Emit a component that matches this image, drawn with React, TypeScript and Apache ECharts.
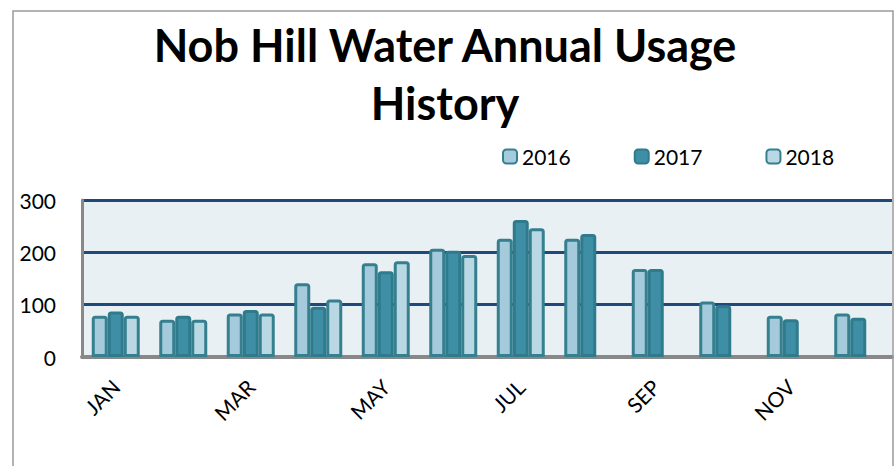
import React, { useEffect, useRef } from "react";
import * as echarts from "echarts";

const months = ["JAN", "FEB", "MAR", "APR", "MAY", "JUN", "JUL", "AUG", "SEP", "OCT", "NOV", "DEC"];
const usage2016 = [79, 71, 83, 141, 179, 207, 226, 226, 168, 106, 79, 83];
const usage2017 = [87, 79, 90, 96, 164, 203, 262, 235, 168, 99, 72, 75];
const usage2018: (number | null)[] = [79, 71, 83, 110, 183, 195, 246, null, null, null, null, null];
const yTicks = { min: 0, max: 300, interval: 100 };

const FONT = "Lato, 'Liberation Sans', sans-serif";

export default function App() {
  const ref = useRef<HTMLDivElement>(null);
  useEffect(() => {
    if (!ref.current) return;
    const chart = echarts.init(ref.current, null, { renderer: "svg" });
    const edge = "#357f8f";
    const mk = (name: string, data: (number | null)[], fill: string, border: string) => ({
      name,
      type: "bar",
      data,
      barWidth: 16,
      barGap: "0%",
      itemStyle: { color: fill, borderColor: border, borderWidth: 3, borderRadius: [2, 2, 0, 0] },
    });
    chart.setOption({
      animation: false,
      backgroundColor: "#ffffff",
      textStyle: { fontFamily: FONT },
      title: {
        text: "Nob Hill Water Annual Usage\nHistory",
        left: 440,
        textAlign: "center",
        top: 11,
        textStyle: { fontFamily: FONT, fontWeight: "bold", fontSize: 45, lineHeight: 58, color: "#000" },
      },
      legend: {
        left: 497,
        top: 141,
        itemWidth: 14,
        itemHeight: 14,
        itemGap: 63,
        icon: "roundRect",
        textStyle: { fontFamily: FONT, fontSize: 21, color: "#000" },
      },
      grid: {
        left: 82,
        right: 3,
        top: 200,
        bottom: 109,
        show: true,
        backgroundColor: "#e8f0f4",
        borderWidth: 0,
      },
      xAxis: {
        type: "category",
        data: months,
        axisLine: { show: true, lineStyle: { color: "#888888", width: 4 } },
        axisTick: { show: false },
        axisLabel: { interval: 1, rotate: 45, margin: 26, fontFamily: FONT, fontSize: 21, color: "#000" },
      },
      yAxis: {
        type: "value",
        min: yTicks.min,
        max: yTicks.max,
        interval: yTicks.interval,
        axisLine: { show: true, lineStyle: { color: "#888888", width: 3 } },
        axisTick: { show: false },
        splitLine: { show: true, lineStyle: { color: "#1f497d", width: 3 } },
        axisLabel: { margin: 26, fontFamily: FONT, fontSize: 21, color: "#000" },
      },
      graphic: [
        {
          type: "rect",
          shape: { x: 13, y: 11, width: 880, height: 480 },
          style: { fill: "none", stroke: "#9a9a9a", lineWidth: 1.5 },
          silent: true,
          z: 100,
        },
      ],
      series: [
        mk("2016", usage2016, "#a4cadb", edge),
        mk("2017", usage2017, "#3e8ea6", "#2f7b8c"),
        mk("2018", usage2018, "#b9d8e3", edge),
      ],
    });
    return () => chart.dispose();
  }, []);
  return <div ref={ref} style={{ position: "fixed", left: 0, top: 0, width: 895, height: 466 }} />;
}
